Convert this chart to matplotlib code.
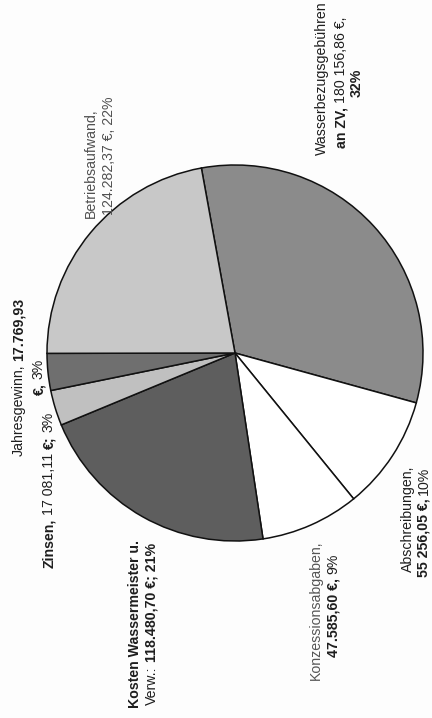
import matplotlib
matplotlib.use("Agg")
import matplotlib.pyplot as plt

# ---------------------------------------------------------------------------
# data (Euro amounts per cost block)
categories = [
    "Wasserbezugsgebühren an ZV",
    "Abschreibungen",
    "Konzessionsabgaben",
    "Kosten Wassermeister u. Verw.",
    "Zinsen",
    "Jahresgewinn",
    "Betriebsaufwand",
]
values = [180156.86, 55256.05, 47585.60, 118480.70, 17081.11, 17769.93, 124282.37]

# label text, one entry per line: list of (text, bold) runs
label_lines = [
    [("Wasserbezugsgebühren", False)],
    [("an ZV,", True), ("180 156,86 €,", False)],
    [("32%", True)],
    [("Abschreibungen,", False)],
    [("55 256,05 €,", True), ("10%", False)],
    [("Konzessionsabgaben,", False)],
    [("47.585,60 €,", True), ("9%", False)],
    [("Kosten Wassermeister u.", True)],
    [("Verw.:", False), ("118.480,70 €; 21%", True)],
    [("Zinsen,", True), ("17 081,11", False), ("€;", True), ("3%", False)],
    [("Jahresgewinn,", False), ("17.769,93", True)],
    [("€,", True), ("3%", False)],
    [("Betriebsaufwand,", False)],
    [("124.282,37 €, 22%", False)],
]

# ---------------------------------------------------------------------------
# layout / style (image pixels, y downwards; page is scanned sideways)
W, H = 432, 718
CX, CY, R = 235, 353, 188
START = 100.3
colors = ["#8b8b8b", "#ffffff", "#ffffff", "#5e5e5e", "#c0c0c0", "#6f6f6f", "#c8c8c8"]
line_pos = [(322, 78), (341, 82), (357, 83),
            (408, 519), (424, 522),
            (316, 610), (333, 605),
            (135, 624), (152, 624),
            (49, 490),
            (19, 377), (39, 377),
            (91, 163), (109, 156)]
line_color = ["#1e1e1e"] * 12 + ["#505050", "#505050"]
line_color[5] = "#555555"
FS = 10.2

fig = plt.figure(figsize=(W / 100, H / 100), dpi=100)
fig.patch.set_facecolor("#fdfdfd")

m = 1.03
ax = fig.add_axes([(CX - R * m) / W, (H - CY - R * m) / H, 2 * R * m / W, 2 * R * m / H])
ax.pie(values, colors=colors, startangle=START, counterclock=False,
       wedgeprops={"edgecolor": "#111111", "linewidth": 1.1})
ax.set_xlim(-m, m)
ax.set_ylim(-m, m)
ax.set_aspect("auto")
ax.axis("off")

renderer = fig.canvas.get_renderer()


def text_width(s, bold):
    t = fig.text(0, 0, s, fontsize=FS, family="Liberation Sans",
                 weight="bold" if bold else "normal")
    w = t.get_window_extent(renderer).width
    t.remove()
    return w


space = text_width("n n", False) - text_width("nn", False)

for runs, (x, y), col in zip(label_lines, line_pos, line_color):
    widths = [text_width(s, b) for s, b in runs]
    total = sum(widths) + space * (len(runs) - 1)
    ypos = (H - y) - total / 2  # display pixels, text goes upwards
    for (s, b), w in zip(runs, widths):
        fig.text(x / W, ypos / H, s, rotation=90, rotation_mode="anchor",
                 ha="left", va="center", fontsize=FS, family="Liberation Sans",
                 weight="bold" if b else "normal", color=col)
        ypos += w + space

fig.savefig("out.png", dpi=100, facecolor=fig.get_facecolor())
